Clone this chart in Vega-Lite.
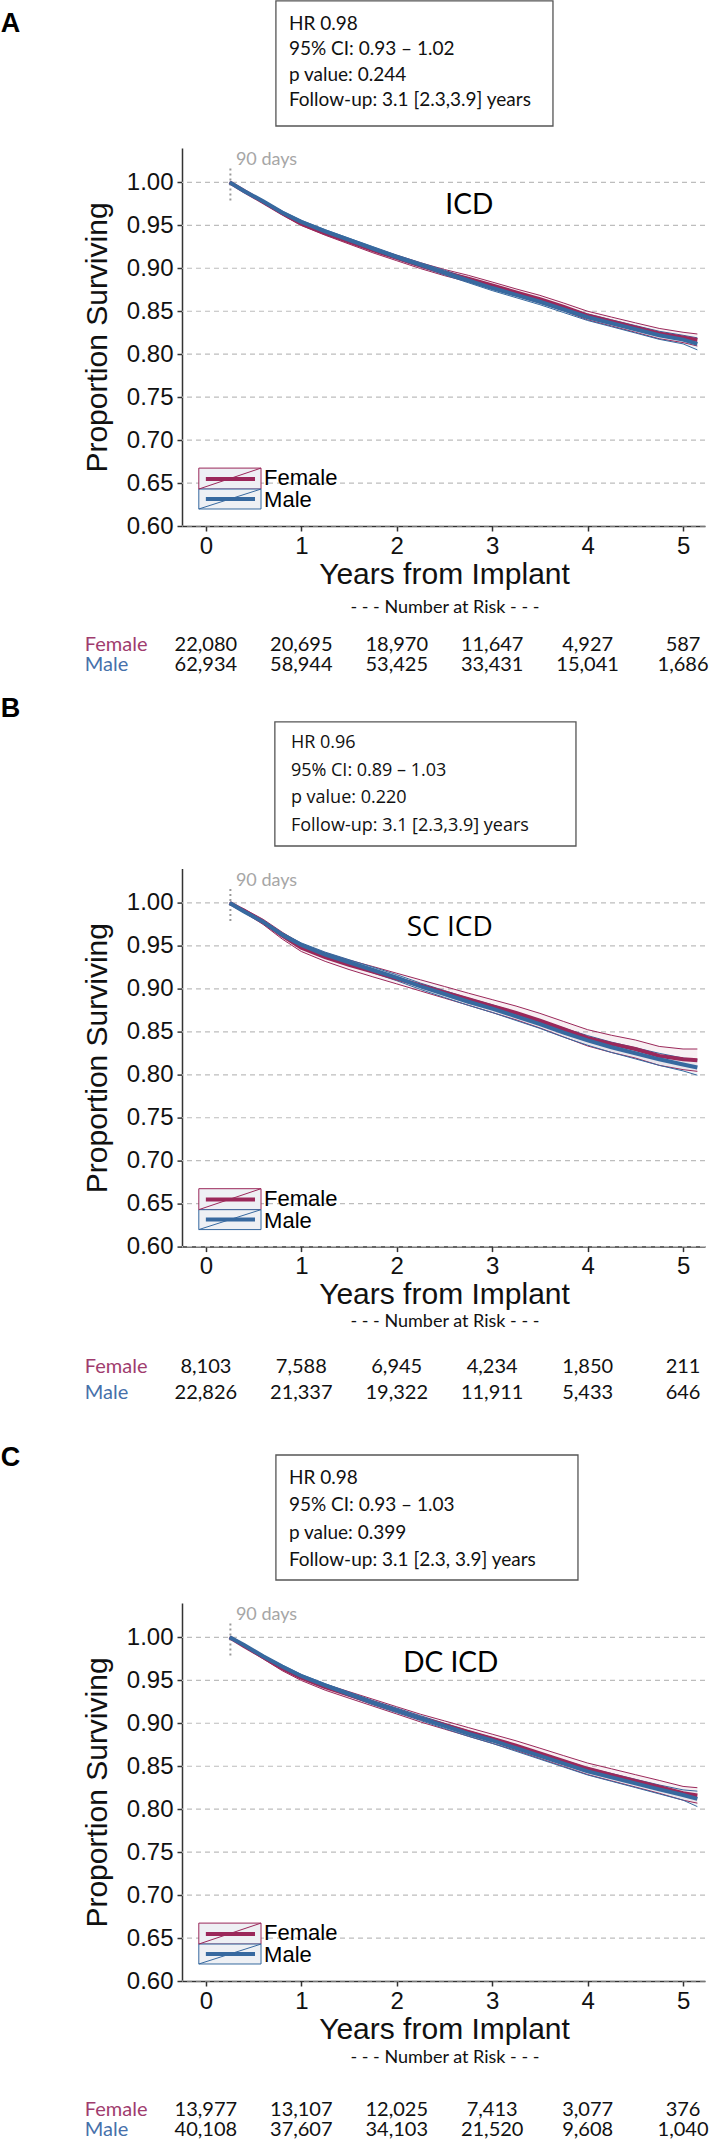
{
"$schema":"https://vega.github.io/schema/vega-lite/v6.json",
"autosize":{"type":"pad"},
"padding":0,
"background":"white",
"bounds":"flush",
"spacing":342.6,
"config":{"view":{"stroke":null},"legend":{"disable":true},
"axis":{"grid":false,"labelFont":"Liberation Sans","titleFont":"Liberation Sans","labelColor":"#111111","titleColor":"#111111","titleFontWeight":"normal","domainColor":"#333333","tickColor":"#333333","domainWidth":1.5,"tickWidth":1.5,"tickSize":5,"labelFontSize":24,"titleFontSize":30},
"axisX":{"labelPadding":3},
"axisY":{"labelPadding":4}},
"datasets":{
"grid":[{"g":0.6},{"g":0.65},{"g":0.7},{"g":0.75},{"g":0.8},{"g":0.85},{"g":0.9},{"g":0.95},{"g":1.0}],
"A_curves":[
{"sex":"Female","t":0.25,"s":1,"lo":1,"hi":1},{"sex":"Female","t":0.4,"s":0.99,"lo":0.9893,"hi":0.9907},{"sex":"Female","t":0.6,"s":0.977,"lo":0.9757,"hi":0.9783},{"sex":"Female","t":0.8,"s":0.964,"lo":0.9622,"hi":0.9658},{"sex":"Female","t":1.0,"s":0.952,"lo":0.9498,"hi":0.9542},{"sex":"Female","t":1.25,"s":0.941,"lo":0.9385,"hi":0.9435},{"sex":"Female","t":1.5,"s":0.931,"lo":0.9282,"hi":0.9338},{"sex":"Female","t":1.75,"s":0.921,"lo":0.918,"hi":0.924},{"sex":"Female","t":2.0,"s":0.912,"lo":0.9088,"hi":0.9152},{"sex":"Female","t":2.25,"s":0.903,"lo":0.8996,"hi":0.9064},{"sex":"Female","t":2.5,"s":0.895,"lo":0.8914,"hi":0.8986},{"sex":"Female","t":2.75,"s":0.888,"lo":0.8842,"hi":0.8918},{"sex":"Female","t":3.0,"s":0.88,"lo":0.876,"hi":0.884},{"sex":"Female","t":3.25,"s":0.872,"lo":0.868,"hi":0.876},{"sex":"Female","t":3.5,"s":0.864,"lo":0.8595,"hi":0.8685},{"sex":"Female","t":3.75,"s":0.855,"lo":0.8505,"hi":0.8595},{"sex":"Female","t":4.0,"s":0.845,"lo":0.84,"hi":0.85},{"sex":"Female","t":4.25,"s":0.838,"lo":0.8328,"hi":0.8432},{"sex":"Female","t":4.5,"s":0.831,"lo":0.8255,"hi":0.8365},{"sex":"Female","t":4.75,"s":0.824,"lo":0.818,"hi":0.83},{"sex":"Female","t":5.0,"s":0.8195,"lo":0.8135,"hi":0.8255},{"sex":"Female","t":5.15,"s":0.8165,"lo":0.8095,"hi":0.8235},
{"sex":"Male","t":0.25,"s":1,"lo":1,"hi":1},{"sex":"Male","t":0.4,"s":0.99,"lo":0.9894,"hi":0.9906},{"sex":"Male","t":0.6,"s":0.978,"lo":0.977,"hi":0.979},{"sex":"Male","t":0.8,"s":0.965,"lo":0.9635,"hi":0.9665},{"sex":"Male","t":1.0,"s":0.954,"lo":0.9523,"hi":0.9557},{"sex":"Male","t":1.25,"s":0.943,"lo":0.941,"hi":0.945},{"sex":"Male","t":1.5,"s":0.933,"lo":0.931,"hi":0.935},{"sex":"Male","t":1.75,"s":0.923,"lo":0.9208,"hi":0.9252},{"sex":"Male","t":2.0,"s":0.913,"lo":0.9106,"hi":0.9154},{"sex":"Male","t":2.25,"s":0.904,"lo":0.9015,"hi":0.9065},{"sex":"Male","t":2.5,"s":0.895,"lo":0.8923,"hi":0.8977},{"sex":"Male","t":2.75,"s":0.886,"lo":0.8832,"hi":0.8888},{"sex":"Male","t":3.0,"s":0.877,"lo":0.874,"hi":0.88},{"sex":"Male","t":3.25,"s":0.869,"lo":0.8658,"hi":0.8722},{"sex":"Male","t":3.5,"s":0.861,"lo":0.8576,"hi":0.8644},{"sex":"Male","t":3.75,"s":0.852,"lo":0.8484,"hi":0.8556},{"sex":"Male","t":4.0,"s":0.843,"lo":0.8392,"hi":0.8468},{"sex":"Male","t":4.25,"s":0.836,"lo":0.832,"hi":0.84},{"sex":"Male","t":4.5,"s":0.829,"lo":0.8247,"hi":0.8333},{"sex":"Male","t":4.75,"s":0.822,"lo":0.8173,"hi":0.8267},{"sex":"Male","t":5.0,"s":0.817,"lo":0.812,"hi":0.822},{"sex":"Male","t":5.15,"s":0.812,"lo":0.805,"hi":0.819}],
"B_curves":[
{"sex":"Female","t":0.25,"s":1,"lo":1,"hi":1},{"sex":"Female","t":0.4,"s":0.991,"lo":0.989,"hi":0.993},{"sex":"Female","t":0.6,"s":0.978,"lo":0.975,"hi":0.981},{"sex":"Female","t":0.8,"s":0.962,"lo":0.958,"hi":0.966},{"sex":"Female","t":1.0,"s":0.948,"lo":0.9435,"hi":0.9525},{"sex":"Female","t":1.25,"s":0.937,"lo":0.932,"hi":0.942},{"sex":"Female","t":1.5,"s":0.928,"lo":0.9225,"hi":0.9335},{"sex":"Female","t":1.75,"s":0.92,"lo":0.914,"hi":0.926},{"sex":"Female","t":2.0,"s":0.912,"lo":0.9058,"hi":0.9182},{"sex":"Female","t":2.25,"s":0.904,"lo":0.8975,"hi":0.9105},{"sex":"Female","t":2.5,"s":0.896,"lo":0.8892,"hi":0.9028},{"sex":"Female","t":2.75,"s":0.888,"lo":0.881,"hi":0.895},{"sex":"Female","t":3.0,"s":0.88,"lo":0.8725,"hi":0.8875},{"sex":"Female","t":3.25,"s":0.872,"lo":0.864,"hi":0.88},{"sex":"Female","t":3.5,"s":0.863,"lo":0.8545,"hi":0.8715},{"sex":"Female","t":3.75,"s":0.853,"lo":0.844,"hi":0.862},{"sex":"Female","t":4.0,"s":0.843,"lo":0.8335,"hi":0.8525},{"sex":"Female","t":4.25,"s":0.836,"lo":0.826,"hi":0.846},{"sex":"Female","t":4.5,"s":0.83,"lo":0.8195,"hi":0.8405},{"sex":"Female","t":4.75,"s":0.822,"lo":0.811,"hi":0.833},{"sex":"Female","t":5.0,"s":0.818,"lo":0.806,"hi":0.83},{"sex":"Female","t":5.15,"s":0.817,"lo":0.804,"hi":0.83},
{"sex":"Male","t":0.25,"s":1,"lo":1,"hi":1},{"sex":"Male","t":0.4,"s":0.99,"lo":0.989,"hi":0.991},{"sex":"Male","t":0.6,"s":0.978,"lo":0.9763,"hi":0.9797},{"sex":"Male","t":0.8,"s":0.963,"lo":0.9608,"hi":0.9652},{"sex":"Male","t":1.0,"s":0.951,"lo":0.9485,"hi":0.9535},{"sex":"Male","t":1.25,"s":0.94,"lo":0.9372,"hi":0.9428},{"sex":"Male","t":1.5,"s":0.931,"lo":0.928,"hi":0.934},{"sex":"Male","t":1.75,"s":0.922,"lo":0.9187,"hi":0.9253},{"sex":"Male","t":2.0,"s":0.913,"lo":0.9095,"hi":0.9165},{"sex":"Male","t":2.25,"s":0.903,"lo":0.8993,"hi":0.9067},{"sex":"Male","t":2.5,"s":0.894,"lo":0.89,"hi":0.898},{"sex":"Male","t":2.75,"s":0.885,"lo":0.8808,"hi":0.8892},{"sex":"Male","t":3.0,"s":0.877,"lo":0.8725,"hi":0.8815},{"sex":"Male","t":3.25,"s":0.868,"lo":0.8632,"hi":0.8728},{"sex":"Male","t":3.5,"s":0.859,"lo":0.854,"hi":0.864},{"sex":"Male","t":3.75,"s":0.849,"lo":0.8437,"hi":0.8543},{"sex":"Male","t":4.0,"s":0.84,"lo":0.8344,"hi":0.8456},{"sex":"Male","t":4.25,"s":0.832,"lo":0.826,"hi":0.838},{"sex":"Male","t":4.5,"s":0.825,"lo":0.8185,"hi":0.8315},{"sex":"Male","t":4.75,"s":0.818,"lo":0.811,"hi":0.825},{"sex":"Male","t":5.0,"s":0.812,"lo":0.8045,"hi":0.8195},{"sex":"Male","t":5.15,"s":0.8085,"lo":0.7995,"hi":0.8175}],
"C_curves":[
{"sex":"Female","t":0.25,"s":1,"lo":1,"hi":1},{"sex":"Female","t":0.4,"s":0.99,"lo":0.9888,"hi":0.9912},{"sex":"Female","t":0.6,"s":0.977,"lo":0.975,"hi":0.979},{"sex":"Female","t":0.8,"s":0.964,"lo":0.9612,"hi":0.9668},{"sex":"Female","t":1.0,"s":0.953,"lo":0.9498,"hi":0.9562},{"sex":"Female","t":1.25,"s":0.942,"lo":0.9385,"hi":0.9455},{"sex":"Female","t":1.5,"s":0.933,"lo":0.9292,"hi":0.9368},{"sex":"Female","t":1.75,"s":0.924,"lo":0.92,"hi":0.928},{"sex":"Female","t":2.0,"s":0.915,"lo":0.9108,"hi":0.9192},{"sex":"Female","t":2.25,"s":0.906,"lo":0.9015,"hi":0.9105},{"sex":"Female","t":2.5,"s":0.898,"lo":0.8932,"hi":0.9028},{"sex":"Female","t":2.75,"s":0.89,"lo":0.885,"hi":0.895},{"sex":"Female","t":3.0,"s":0.882,"lo":0.8767,"hi":0.8873},{"sex":"Female","t":3.25,"s":0.874,"lo":0.8684,"hi":0.8796},{"sex":"Female","t":3.5,"s":0.865,"lo":0.859,"hi":0.871},{"sex":"Female","t":3.75,"s":0.856,"lo":0.8497,"hi":0.8623},{"sex":"Female","t":4.0,"s":0.847,"lo":0.8403,"hi":0.8537},{"sex":"Female","t":4.25,"s":0.84,"lo":0.833,"hi":0.847},{"sex":"Female","t":4.5,"s":0.833,"lo":0.8258,"hi":0.8402},{"sex":"Female","t":4.75,"s":0.826,"lo":0.8185,"hi":0.8335},{"sex":"Female","t":5.0,"s":0.8185,"lo":0.8105,"hi":0.8265},{"sex":"Female","t":5.15,"s":0.816,"lo":0.807,"hi":0.825},
{"sex":"Male","t":0.25,"s":1,"lo":1,"hi":1},{"sex":"Male","t":0.4,"s":0.991,"lo":0.9903,"hi":0.9917},{"sex":"Male","t":0.6,"s":0.978,"lo":0.9768,"hi":0.9792},{"sex":"Male","t":0.8,"s":0.966,"lo":0.9644,"hi":0.9676},{"sex":"Male","t":1.0,"s":0.955,"lo":0.9531,"hi":0.9569},{"sex":"Male","t":1.25,"s":0.944,"lo":0.9419,"hi":0.9461},{"sex":"Male","t":1.5,"s":0.934,"lo":0.9317,"hi":0.9363},{"sex":"Male","t":1.75,"s":0.924,"lo":0.9215,"hi":0.9265},{"sex":"Male","t":2.0,"s":0.915,"lo":0.9123,"hi":0.9177},{"sex":"Male","t":2.25,"s":0.906,"lo":0.9032,"hi":0.9088},{"sex":"Male","t":2.5,"s":0.897,"lo":0.894,"hi":0.9},{"sex":"Male","t":2.75,"s":0.888,"lo":0.8848,"hi":0.8912},{"sex":"Male","t":3.0,"s":0.88,"lo":0.8766,"hi":0.8834},{"sex":"Male","t":3.25,"s":0.871,"lo":0.8674,"hi":0.8746},{"sex":"Male","t":3.5,"s":0.862,"lo":0.8582,"hi":0.8658},{"sex":"Male","t":3.75,"s":0.853,"lo":0.849,"hi":0.857},{"sex":"Male","t":4.0,"s":0.844,"lo":0.8398,"hi":0.8482},{"sex":"Male","t":4.25,"s":0.837,"lo":0.8325,"hi":0.8415},{"sex":"Male","t":4.5,"s":0.83,"lo":0.8252,"hi":0.8348},{"sex":"Male","t":4.75,"s":0.823,"lo":0.8178,"hi":0.8282},{"sex":"Male","t":5.0,"s":0.8165,"lo":0.8105,"hi":0.8225},{"sex":"Male","t":5.15,"s":0.812,"lo":0.803,"hi":0.821}],
"A_risk":[{"sex":"Female","t":0,"n":"22,080"},{"sex":"Female","t":1,"n":"20,695"},{"sex":"Female","t":2,"n":"18,970"},{"sex":"Female","t":3,"n":"11,647"},{"sex":"Female","t":4,"n":"4,927"},{"sex":"Female","t":5,"n":"587"},{"sex":"Male","t":0,"n":"62,934"},{"sex":"Male","t":1,"n":"58,944"},{"sex":"Male","t":2,"n":"53,425"},{"sex":"Male","t":3,"n":"33,431"},{"sex":"Male","t":4,"n":"15,041"},{"sex":"Male","t":5,"n":"1,686"}],
"B_risk":[{"sex":"Female","t":0,"n":"8,103"},{"sex":"Female","t":1,"n":"7,588"},{"sex":"Female","t":2,"n":"6,945"},{"sex":"Female","t":3,"n":"4,234"},{"sex":"Female","t":4,"n":"1,850"},{"sex":"Female","t":5,"n":"211"},{"sex":"Male","t":0,"n":"22,826"},{"sex":"Male","t":1,"n":"21,337"},{"sex":"Male","t":2,"n":"19,322"},{"sex":"Male","t":3,"n":"11,911"},{"sex":"Male","t":4,"n":"5,433"},{"sex":"Male","t":5,"n":"646"}],
"C_risk":[{"sex":"Female","t":0,"n":"13,977"},{"sex":"Female","t":1,"n":"13,107"},{"sex":"Female","t":2,"n":"12,025"},{"sex":"Female","t":3,"n":"7,413"},{"sex":"Female","t":4,"n":"3,077"},{"sex":"Female","t":5,"n":"376"},{"sex":"Male","t":0,"n":"40,108"},{"sex":"Male","t":1,"n":"37,607"},{"sex":"Male","t":2,"n":"34,103"},{"sex":"Male","t":3,"n":"21,520"},{"sex":"Male","t":4,"n":"9,608"},{"sex":"Male","t":5,"n":"1,040"}]
},
"vconcat":[
{"width":523,"height":378,"layer":[
{"data":{"name":"grid"},"mark":{"type":"rule","color":"#bdbdbd","strokeWidth":1.2,"strokeDash":[5,4]},"encoding":{"y":{"field":"g","type":"quantitative"}}},
{"data":{"values":[{}]},"mark":{"type":"rect","fill":"white","stroke":"#555555","strokeWidth":1.3},"encoding":{"x":{"datum":0.734},"x2":{"datum":3.637},"y":{"datum":1.0656},"y2":{"datum":1.2112}}},
{"data":{"values":[{"lines":["HR 0.98","95% CI: 0.93 – 1.02","p value: 0.244","Follow-up: 3.1 [2.3,3.9] years"]}]},"mark":{"type":"text","align":"left","baseline":"middle","font":"Lato","fontSize":19,"lineHeight":25.5,"color":"#111111"},"encoding":{"x":{"datum":0.87},"y":{"datum":1.1848},"text":{"field":"lines"}}},
{"data":{"values":[{"label":"A"}]},"mark":{"type":"text","align":"left","baseline":"middle","font":"Liberation Sans","fontSize":27,"fontWeight":"bold","color":"#000000"},"encoding":{"x":{"datum":-2.149},"y":{"datum":1.1844},"text":{"field":"label"}}},
{"data":{"values":[{}]},"mark":{"type":"rule","color":"#999999","strokeWidth":2,"strokeDash":[2,3]},"encoding":{"x":{"datum":0.257},"y":{"datum":0.979},"y2":{"datum":1.019}}},
{"data":{"values":[{"label":"90 days"}]},"mark":{"type":"text","align":"left","baseline":"middle","font":"Lato","fontSize":18,"color":"#a6a6a6"},"encoding":{"x":{"datum":0.315},"y":{"datum":1.026},"text":{"field":"label"}}},
{"data":{"values":[{"label":"ICD"}]},"mark":{"type":"text","align":"center","baseline":"middle","font":"Lato","fontSize":28,"color":"#000000"},"encoding":{"x":{"datum":2.76},"y":{"datum":0.9728},"text":{"field":"label"}}},
{"data":{"name":"A_curves"},"mark":{"type":"area","opacity":0.07},"encoding":{"x":{"field":"t","type":"quantitative"},"y":{"field":"lo","type":"quantitative"},"y2":{"field":"hi"},"color":{"field":"sex","type":"nominal"}}},
{"data":{"name":"A_curves"},"mark":{"type":"line","strokeWidth":1},"encoding":{"x":{"field":"t","type":"quantitative"},"y":{"field":"lo","type":"quantitative"},"color":{"field":"sex","type":"nominal"}}},
{"data":{"name":"A_curves"},"mark":{"type":"line","strokeWidth":1},"encoding":{"x":{"field":"t","type":"quantitative"},"y":{"field":"hi","type":"quantitative"},"color":{"field":"sex","type":"nominal"}}},
{"data":{"name":"A_curves"},"mark":{"type":"line","strokeWidth":4},"encoding":{
"x":{"field":"t","type":"quantitative","scale":{"domain":[-0.25,5.23],"nice":false,"zero":false},"axis":{"values":[0,1,2,3,4,5],"format":"d","title":"Years from Implant","titleX":262,"titleY":57,"titleBaseline":"alphabetic"}},
"y":{"field":"s","type":"quantitative","scale":{"domain":[0.6,1.04],"nice":false,"zero":false},"axis":{"values":[0.6,0.65,0.7,0.75,0.8,0.85,0.9,0.95,1.0],"format":".2f","title":"Proportion Surviving","titleX":-76,"titleY":189,"titleBaseline":"alphabetic","titleAngle":270}},
"color":{"field":"sex","type":"nominal","scale":{"domain":["Female","Male"],"range":["#9b285a","#37699f"]}}}},
{"data":{"values":[{}]},"mark":{"type":"rect","fill":"#eef0f4","stroke":"#9b285a","strokeWidth":1},"encoding":{"x":{"datum":-0.074},"x2":{"datum":0.578},"y":{"datum":0.643},"y2":{"datum":0.6674}}},
{"data":{"values":[{}]},"mark":{"type":"rect","fill":"#eef0f4","stroke":"#37699f","strokeWidth":1},"encoding":{"x":{"datum":-0.074},"x2":{"datum":0.578},"y":{"datum":0.6198},"y2":{"datum":0.643}}},
{"data":{"values":[{}]},"mark":{"type":"rule","color":"#9b285a","strokeWidth":1},"encoding":{"x":{"datum":-0.074},"x2":{"datum":0.578},"y":{"datum":0.643},"y2":{"datum":0.6674}}},
{"data":{"values":[{}]},"mark":{"type":"rule","color":"#37699f","strokeWidth":1},"encoding":{"x":{"datum":-0.074},"x2":{"datum":0.578},"y":{"datum":0.6198},"y2":{"datum":0.643}}},
{"data":{"values":[{}]},"mark":{"type":"rule","color":"#9b285a","strokeWidth":4},"encoding":{"x":{"datum":0.0},"x2":{"datum":0.515},"y":{"datum":0.6547}}},
{"data":{"values":[{}]},"mark":{"type":"rule","color":"#37699f","strokeWidth":4},"encoding":{"x":{"datum":0.0},"x2":{"datum":0.515},"y":{"datum":0.6314}}},
{"data":{"values":[{"label":"Female"}]},"mark":{"type":"text","align":"left","baseline":"middle","font":"Liberation Sans","fontSize":22,"color":"#000000"},"encoding":{"x":{"datum":0.61},"y":{"datum":0.6556},"text":{"field":"label"}}},
{"data":{"values":[{"label":"Male"}]},"mark":{"type":"text","align":"left","baseline":"middle","font":"Liberation Sans","fontSize":22,"color":"#000000"},"encoding":{"x":{"datum":0.61},"y":{"datum":0.6303},"text":{"field":"label"}}},
{"data":{"values":[{"label":"- - - Number at Risk - - -"}]},"mark":{"type":"text","align":"center","baseline":"middle","font":"Lato","fontSize":18,"color":"#111111"},"encoding":{"x":{"datum":2.505},"y":{"datum":0.5045},"text":{"field":"label"}}},
{"data":{"values":[{"label":"Female"}]},"mark":{"type":"text","align":"left","baseline":"middle","font":"Lato","fontSize":20,"color":"#a03c6e"},"encoding":{"x":{"datum":-1.268},"y":{"datum":0.4615},"text":{"field":"label"}}},
{"data":{"values":[{"label":"Male"}]},"mark":{"type":"text","align":"left","baseline":"middle","font":"Lato","fontSize":20,"color":"#4670aa"},"encoding":{"x":{"datum":-1.268},"y":{"datum":0.4382},"text":{"field":"label"}}},
{"data":{"name":"A_risk"},"transform":[{"filter":"datum.sex === 'Female'"}],"mark":{"type":"text","align":"center","baseline":"middle","font":"Lato","fontSize":20,"color":"#111111"},"encoding":{"x":{"field":"t","type":"quantitative"},"y":{"datum":0.4615},"text":{"field":"n"}}},
{"data":{"name":"A_risk"},"transform":[{"filter":"datum.sex === 'Male'"}],"mark":{"type":"text","align":"center","baseline":"middle","font":"Lato","fontSize":20,"color":"#111111"},"encoding":{"x":{"field":"t","type":"quantitative"},"y":{"datum":0.4382},"text":{"field":"n"}}}
]},
{"bounds":"flush","spacing":356.4,"vconcat":[
{"width":523,"height":378,"layer":[
{"data":{"name":"grid"},"mark":{"type":"rule","color":"#bdbdbd","strokeWidth":1.2,"strokeDash":[5,4]},"encoding":{"y":{"field":"g","type":"quantitative"}}},
{"data":{"values":[{}]},"mark":{"type":"rect","fill":"white","stroke":"#555555","strokeWidth":1.3},"encoding":{"x":{"datum":0.723},"x2":{"datum":3.878},"y":{"datum":1.0663},"y2":{"datum":1.2107}}},
{"data":{"values":[{"lines":["HR 0.96","95% CI: 0.89 – 1.03","p value: 0.220","Follow-up: 3.1 [2.3,3.9] years"]}]},"mark":{"type":"text","align":"left","baseline":"middle","font":"Open Sans","fontSize":18,"lineHeight":27.7,"color":"#111111"},"encoding":{"x":{"datum":0.891},"y":{"datum":1.1862},"text":{"field":"lines"}}},
{"data":{"values":[{"label":"B"}]},"mark":{"type":"text","align":"left","baseline":"middle","font":"Liberation Sans","fontSize":27,"fontWeight":"bold","color":"#000000"},"encoding":{"x":{"datum":-2.149},"y":{"datum":1.2263},"text":{"field":"label"}}},
{"data":{"values":[{}]},"mark":{"type":"rule","color":"#999999","strokeWidth":2,"strokeDash":[2,3]},"encoding":{"x":{"datum":0.257},"y":{"datum":0.979},"y2":{"datum":1.019}}},
{"data":{"values":[{"label":"90 days"}]},"mark":{"type":"text","align":"left","baseline":"middle","font":"Lato","fontSize":18,"color":"#a6a6a6"},"encoding":{"x":{"datum":0.315},"y":{"datum":1.026},"text":{"field":"label"}}},
{"data":{"values":[{"label":"SC ICD"}]},"mark":{"type":"text","align":"center","baseline":"middle","font":"Open Sans","fontSize":28,"color":"#000000"},"encoding":{"x":{"datum":2.555},"y":{"datum":0.9714},"text":{"field":"label"}}},
{"data":{"name":"B_curves"},"mark":{"type":"area","opacity":0.07},"encoding":{"x":{"field":"t","type":"quantitative"},"y":{"field":"lo","type":"quantitative"},"y2":{"field":"hi"},"color":{"field":"sex","type":"nominal"}}},
{"data":{"name":"B_curves"},"mark":{"type":"line","strokeWidth":1},"encoding":{"x":{"field":"t","type":"quantitative"},"y":{"field":"lo","type":"quantitative"},"color":{"field":"sex","type":"nominal"}}},
{"data":{"name":"B_curves"},"mark":{"type":"line","strokeWidth":1},"encoding":{"x":{"field":"t","type":"quantitative"},"y":{"field":"hi","type":"quantitative"},"color":{"field":"sex","type":"nominal"}}},
{"data":{"name":"B_curves"},"mark":{"type":"line","strokeWidth":4},"encoding":{
"x":{"field":"t","type":"quantitative","scale":{"domain":[-0.25,5.23],"nice":false,"zero":false},"axis":{"values":[0,1,2,3,4,5],"format":"d","title":"Years from Implant","titleX":262,"titleY":57,"titleBaseline":"alphabetic"}},
"y":{"field":"s","type":"quantitative","scale":{"domain":[0.6,1.04],"nice":false,"zero":false},"axis":{"values":[0.6,0.65,0.7,0.75,0.8,0.85,0.9,0.95,1.0],"format":".2f","title":"Proportion Surviving","titleX":-76,"titleY":189,"titleBaseline":"alphabetic","titleAngle":270}},
"color":{"field":"sex","type":"nominal","scale":{"domain":["Female","Male"],"range":["#9b285a","#37699f"]}}}},
{"data":{"values":[{}]},"mark":{"type":"rect","fill":"#eef0f4","stroke":"#9b285a","strokeWidth":1},"encoding":{"x":{"datum":-0.074},"x2":{"datum":0.578},"y":{"datum":0.643},"y2":{"datum":0.6674}}},
{"data":{"values":[{}]},"mark":{"type":"rect","fill":"#eef0f4","stroke":"#37699f","strokeWidth":1},"encoding":{"x":{"datum":-0.074},"x2":{"datum":0.578},"y":{"datum":0.6198},"y2":{"datum":0.643}}},
{"data":{"values":[{}]},"mark":{"type":"rule","color":"#9b285a","strokeWidth":1},"encoding":{"x":{"datum":-0.074},"x2":{"datum":0.578},"y":{"datum":0.643},"y2":{"datum":0.6674}}},
{"data":{"values":[{}]},"mark":{"type":"rule","color":"#37699f","strokeWidth":1},"encoding":{"x":{"datum":-0.074},"x2":{"datum":0.578},"y":{"datum":0.6198},"y2":{"datum":0.643}}},
{"data":{"values":[{}]},"mark":{"type":"rule","color":"#9b285a","strokeWidth":4},"encoding":{"x":{"datum":0.0},"x2":{"datum":0.515},"y":{"datum":0.6547}}},
{"data":{"values":[{}]},"mark":{"type":"rule","color":"#37699f","strokeWidth":4},"encoding":{"x":{"datum":0.0},"x2":{"datum":0.515},"y":{"datum":0.6314}}},
{"data":{"values":[{"label":"Female"}]},"mark":{"type":"text","align":"left","baseline":"middle","font":"Liberation Sans","fontSize":22,"color":"#000000"},"encoding":{"x":{"datum":0.61},"y":{"datum":0.6556},"text":{"field":"label"}}},
{"data":{"values":[{"label":"Male"}]},"mark":{"type":"text","align":"left","baseline":"middle","font":"Liberation Sans","fontSize":22,"color":"#000000"},"encoding":{"x":{"datum":0.61},"y":{"datum":0.6303},"text":{"field":"label"}}},
{"data":{"values":[{"label":"- - - Number at Risk - - -"}]},"mark":{"type":"text","align":"center","baseline":"middle","font":"Lato","fontSize":18,"color":"#111111"},"encoding":{"x":{"datum":2.505},"y":{"datum":0.5122},"text":{"field":"label"}}},
{"data":{"values":[{"label":"Female"}]},"mark":{"type":"text","align":"left","baseline":"middle","font":"Lato","fontSize":20,"color":"#a03c6e"},"encoding":{"x":{"datum":-1.268},"y":{"datum":0.4598},"text":{"field":"label"}}},
{"data":{"values":[{"label":"Male"}]},"mark":{"type":"text","align":"left","baseline":"middle","font":"Lato","fontSize":20,"color":"#4670aa"},"encoding":{"x":{"datum":-1.268},"y":{"datum":0.4296},"text":{"field":"label"}}},
{"data":{"name":"B_risk"},"transform":[{"filter":"datum.sex === 'Female'"}],"mark":{"type":"text","align":"center","baseline":"middle","font":"Lato","fontSize":20,"color":"#111111"},"encoding":{"x":{"field":"t","type":"quantitative"},"y":{"datum":0.4598},"text":{"field":"n"}}},
{"data":{"name":"B_risk"},"transform":[{"filter":"datum.sex === 'Male'"}],"mark":{"type":"text","align":"center","baseline":"middle","font":"Lato","fontSize":20,"color":"#111111"},"encoding":{"x":{"field":"t","type":"quantitative"},"y":{"datum":0.4296},"text":{"field":"n"}}}
]},
{"width":523,"height":378,"layer":[
{"data":{"name":"grid"},"mark":{"type":"rule","color":"#bdbdbd","strokeWidth":1.2,"strokeDash":[5,4]},"encoding":{"y":{"field":"g","type":"quantitative"}}},
{"data":{"values":[{}]},"mark":{"type":"rect","fill":"white","stroke":"#555555","strokeWidth":1.3},"encoding":{"x":{"datum":0.734},"x2":{"datum":3.899},"y":{"datum":1.0668},"y2":{"datum":1.2123}}},
{"data":{"values":[{"lines":["HR 0.98","95% CI: 0.93 – 1.03","p value: 0.399","Follow-up: 3.1 [2.3, 3.9] years"]}]},"mark":{"type":"text","align":"left","baseline":"middle","font":"Lato","fontSize":19,"lineHeight":27.3,"color":"#111111"},"encoding":{"x":{"datum":0.87},"y":{"datum":1.1855},"text":{"field":"lines"}}},
{"data":{"values":[{"label":"C"}]},"mark":{"type":"text","align":"left","baseline":"middle","font":"Liberation Sans","fontSize":27,"fontWeight":"bold","color":"#000000"},"encoding":{"x":{"datum":-2.149},"y":{"datum":1.2088},"text":{"field":"label"}}},
{"data":{"values":[{}]},"mark":{"type":"rule","color":"#999999","strokeWidth":2,"strokeDash":[2,3]},"encoding":{"x":{"datum":0.257},"y":{"datum":0.979},"y2":{"datum":1.019}}},
{"data":{"values":[{"label":"90 days"}]},"mark":{"type":"text","align":"left","baseline":"middle","font":"Lato","fontSize":18,"color":"#a6a6a6"},"encoding":{"x":{"datum":0.315},"y":{"datum":1.026},"text":{"field":"label"}}},
{"data":{"values":[{"label":"DC ICD"}]},"mark":{"type":"text","align":"center","baseline":"middle","font":"Lato","fontSize":28,"color":"#000000"},"encoding":{"x":{"datum":2.566},"y":{"datum":0.969},"text":{"field":"label"}}},
{"data":{"name":"C_curves"},"mark":{"type":"area","opacity":0.07},"encoding":{"x":{"field":"t","type":"quantitative"},"y":{"field":"lo","type":"quantitative"},"y2":{"field":"hi"},"color":{"field":"sex","type":"nominal"}}},
{"data":{"name":"C_curves"},"mark":{"type":"line","strokeWidth":1},"encoding":{"x":{"field":"t","type":"quantitative"},"y":{"field":"lo","type":"quantitative"},"color":{"field":"sex","type":"nominal"}}},
{"data":{"name":"C_curves"},"mark":{"type":"line","strokeWidth":1},"encoding":{"x":{"field":"t","type":"quantitative"},"y":{"field":"hi","type":"quantitative"},"color":{"field":"sex","type":"nominal"}}},
{"data":{"name":"C_curves"},"mark":{"type":"line","strokeWidth":4},"encoding":{
"x":{"field":"t","type":"quantitative","scale":{"domain":[-0.25,5.23],"nice":false,"zero":false},"axis":{"values":[0,1,2,3,4,5],"format":"d","title":"Years from Implant","titleX":262,"titleY":57,"titleBaseline":"alphabetic"}},
"y":{"field":"s","type":"quantitative","scale":{"domain":[0.6,1.04],"nice":false,"zero":false},"axis":{"values":[0.6,0.65,0.7,0.75,0.8,0.85,0.9,0.95,1.0],"format":".2f","title":"Proportion Surviving","titleX":-76,"titleY":189,"titleBaseline":"alphabetic","titleAngle":270}},
"color":{"field":"sex","type":"nominal","scale":{"domain":["Female","Male"],"range":["#9b285a","#37699f"]}}}},
{"data":{"values":[{}]},"mark":{"type":"rect","fill":"#eef0f4","stroke":"#9b285a","strokeWidth":1},"encoding":{"x":{"datum":-0.074},"x2":{"datum":0.578},"y":{"datum":0.643},"y2":{"datum":0.6674}}},
{"data":{"values":[{}]},"mark":{"type":"rect","fill":"#eef0f4","stroke":"#37699f","strokeWidth":1},"encoding":{"x":{"datum":-0.074},"x2":{"datum":0.578},"y":{"datum":0.6198},"y2":{"datum":0.643}}},
{"data":{"values":[{}]},"mark":{"type":"rule","color":"#9b285a","strokeWidth":1},"encoding":{"x":{"datum":-0.074},"x2":{"datum":0.578},"y":{"datum":0.643},"y2":{"datum":0.6674}}},
{"data":{"values":[{}]},"mark":{"type":"rule","color":"#37699f","strokeWidth":1},"encoding":{"x":{"datum":-0.074},"x2":{"datum":0.578},"y":{"datum":0.6198},"y2":{"datum":0.643}}},
{"data":{"values":[{}]},"mark":{"type":"rule","color":"#9b285a","strokeWidth":4},"encoding":{"x":{"datum":0.0},"x2":{"datum":0.515},"y":{"datum":0.6547}}},
{"data":{"values":[{}]},"mark":{"type":"rule","color":"#37699f","strokeWidth":4},"encoding":{"x":{"datum":0.0},"x2":{"datum":0.515},"y":{"datum":0.6314}}},
{"data":{"values":[{"label":"Female"}]},"mark":{"type":"text","align":"left","baseline":"middle","font":"Liberation Sans","fontSize":22,"color":"#000000"},"encoding":{"x":{"datum":0.61},"y":{"datum":0.6556},"text":{"field":"label"}}},
{"data":{"values":[{"label":"Male"}]},"mark":{"type":"text","align":"left","baseline":"middle","font":"Liberation Sans","fontSize":22,"color":"#000000"},"encoding":{"x":{"datum":0.61},"y":{"datum":0.6303},"text":{"field":"label"}}},
{"data":{"values":[{"label":"- - - Number at Risk - - -"}]},"mark":{"type":"text","align":"center","baseline":"middle","font":"Lato","fontSize":18,"color":"#111111"},"encoding":{"x":{"datum":2.505},"y":{"datum":0.5104},"text":{"field":"label"}}},
{"data":{"values":[{"label":"Female"}]},"mark":{"type":"text","align":"left","baseline":"middle","font":"Lato","fontSize":20,"color":"#a03c6e"},"encoding":{"x":{"datum":-1.268},"y":{"datum":0.4498},"text":{"field":"label"}}},
{"data":{"values":[{"label":"Male"}]},"mark":{"type":"text","align":"left","baseline":"middle","font":"Lato","fontSize":20,"color":"#4670aa"},"encoding":{"x":{"datum":-1.268},"y":{"datum":0.4266},"text":{"field":"label"}}},
{"data":{"name":"C_risk"},"transform":[{"filter":"datum.sex === 'Female'"}],"mark":{"type":"text","align":"center","baseline":"middle","font":"Lato","fontSize":20,"color":"#111111"},"encoding":{"x":{"field":"t","type":"quantitative"},"y":{"datum":0.4498},"text":{"field":"n"}}},
{"data":{"name":"C_risk"},"transform":[{"filter":"datum.sex === 'Male'"}],"mark":{"type":"text","align":"center","baseline":"middle","font":"Lato","fontSize":20,"color":"#111111"},"encoding":{"x":{"field":"t","type":"quantitative"},"y":{"datum":0.4266},"text":{"field":"n"}}}
]}
]}
]
}
